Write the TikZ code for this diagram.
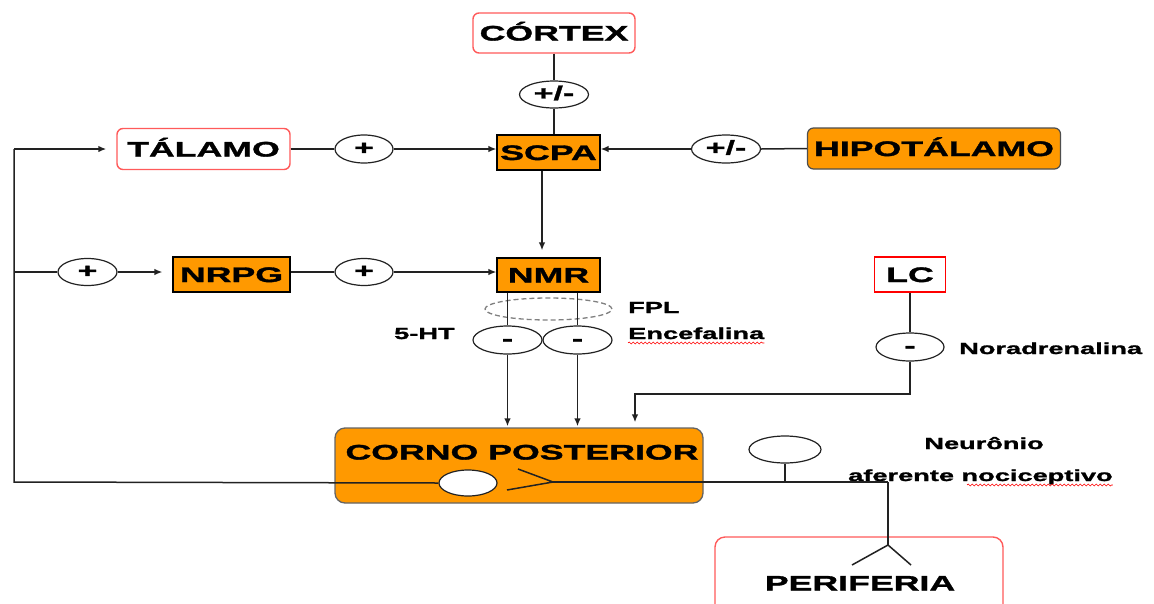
\documentclass[tikz,border=0pt]{standalone}
\usepackage{fontspec}
\setmainfont{Liberation Sans}
\newfontfamily\wfont[FakeStretch=1.7,FakeBold=1.6]{Liberation Sans}
\usetikzlibrary{arrows.meta,shapes.geometric,decorations.pathmorphing}
\definecolor{org}{HTML}{FF9900}
\definecolor{rbd}{HTML}{FF5A5A}
\definecolor{ln}{HTML}{222222}
\tikzset{
 big/.style={font=\wfont\bfseries\fontsize{21}{24}\selectfont, text height=15pt, text depth=0pt},
 small/.style={font=\wfont\bfseries\fontsize{16}{19}\selectfont},
 signf/.style={font=\wfont\bfseries\fontsize{20}{22}\selectfont, text height=11pt, text depth=0pt},
 redbox/.style={draw=rbd, line width=1.4pt, rounded corners=6pt, fill=white, inner sep=0pt, big},
 orbox/.style={draw=black, line width=1.2pt, fill=org, inner sep=0pt, big},
 sign/.style={ellipse, draw=ln, line width=1.2pt, fill=white, inner sep=0pt, signf},
 conn/.style={draw=ln, line width=1.5pt, line join=miter},
 arr/.style={conn, -{Latex[length=8pt,width=6.5pt]}},
 wavy/.style={draw=red, line width=0.6pt, decorate, decoration={snake, amplitude=1pt, segment length=4pt}},
}
\begin{document}
\begin{tikzpicture}[x=1pt,y=-1pt]
\clip (0,0) rectangle (1154,603);
\fill[white] (0,0) rectangle (1154,603);

% boxes
\node[redbox, minimum width=162pt, minimum height=40pt] (cortex) at (554,33) {CÓRTEX};
\node[redbox, minimum width=173pt, minimum height=41pt] (tal) at (203.5,149) {TÁLAMO};
\node[orbox, minimum width=103pt, minimum height=35pt] (scpa) at (548.5,152.5) {SCPA};
\node[orbox, draw=ln!80, rounded corners=6pt, minimum width=253pt, minimum height=41pt] (hip) at (934,148.5) {HIPOTÁLAMO};
\node[orbox, minimum width=117pt, minimum height=35pt] (nrpg) at (231.5,274.5) {NRPG};
\node[orbox, minimum width=103pt, minimum height=34pt] (nmr) at (548.5,275) {NMR};
\node[draw=red, line width=1.3pt, fill=white, inner sep=0pt, big, minimum width=71pt, minimum height=35pt] (lc) at (910,274.5) {LC};
\node[draw=ln!70, line width=1.3pt, fill=org, rounded corners=10pt, minimum width=368pt, minimum height=75pt] (corno) at (519,465.5) {};
\node[big, inner sep=0pt] (cornot) at (522,452) {CORNO POSTERIOR};
\node[draw=rbd, line width=1.4pt, rounded corners=10pt, minimum width=288pt, minimum height=86pt] (peri) at (859,580) {};
\node[big, inner sep=0pt] (perit) at (860,583) {PERIFERIA};

% sign ellipses
\node[sign, minimum width=69pt, minimum height=27pt] (pmtop) at (554,94.5) {+/-};
\node[sign, minimum width=58pt, minimum height=28pt] (p1) at (364,149) {+};
\node[sign, minimum width=69pt, minimum height=28pt] (pmr) at (726,149) {+/-};
\node[sign, minimum width=59pt, minimum height=27pt] (p3) at (87.5,272) {+};
\node[sign, minimum width=58pt, minimum height=27pt] (p4) at (364,272) {+};
\node[ellipse, draw=gray, dash pattern=on 5pt off 3pt, line width=1.3pt, minimum width=127pt, minimum height=22pt] (fpl) at (548.5,309) {};
\node[sign, minimum width=69pt, minimum height=28pt] (m1) at (507.5,340) {-};
\node[sign, minimum width=69pt, minimum height=28pt] (m2) at (577.5,340) {-};
\node[sign, minimum width=68pt, minimum height=28pt] (m3) at (910,347) {-};

% labels
\node[small, anchor=base west, inner sep=0pt] (fplt) at (628,313) {FPL};
\node[small, anchor=base west, inner sep=0pt] (enc) at (628,339) {Encefalina};
\node[small, anchor=base west, inner sep=0pt] (ht) at (394,339) {5-HT};
\node[small, anchor=base west, inner sep=0pt] (nor) at (959,354) {Noradrenalina};
\node[small, anchor=base, inner sep=0pt] (neu) at (984,449) {Neurônio};
\node[small, anchor=base west, inner sep=0pt] (afe) at (848,481) {aferente nociceptivo};
\draw[wavy] ([yshift=-4pt]enc.base west) -- ([yshift=-4pt]enc.base east);
\draw[wavy] (967,485) -- ([yshift=-4pt]afe.base east);

% coordinates
\coordinate (lt) at (14,149);
\coordinate (lm) at (14,272);
\coordinate (lb) at (14,482);
\coordinate (lcc) at (635,394);
\coordinate (gt) at (553,482);
\coordinate (fk1) at (888,482);
\coordinate (fk2) at (888,545);

% connectors top
\draw[conn] (cortex) -- (pmtop);
\draw[conn] (pmtop) -- (pmtop |- scpa.north);
\draw[conn] (tal.east) -- (p1.west);
\draw[arr] (p1.east) -- (p1.east -| scpa.west);
\draw[conn] (hip.west) -- (pmr.east);
\draw[arr] (pmr.west) -- (pmr.west -| scpa.east);
\draw[arr, shorten >=7pt] ([xshift=-6.5pt]scpa.south) -- ([xshift=-6.5pt]nmr.north);

% left loop
\draw[conn] (gt) -- (fk1);
\node[ellipse, draw=ln, line width=1.2pt, fill=white, minimum width=58pt, minimum height=26pt] (wel) at (468,483) {};
\draw[conn] (wel.west) -- (lb) -- (lt);
\draw[arr, shorten >=10pt] (lt) -- (tal.west);
\draw[conn] (lm) -- (p3.west);
\draw[arr, shorten >=10pt] (p3.east) -- (p3.east -| nrpg.west);
\draw[conn] (nrpg.east |- p4) -- (p4.west);
\draw[arr] (p4.east) -- (p4.east -| nmr.west);

% NMR outputs
\draw[conn] (m1.north |- nmr.south) -- (m1.north);
\draw[conn] (m2.north |- nmr.south) -- (m2.north);
\draw[arr, shorten >=1pt] (m1.south) -- (m1.south |- corno.north);
\draw[arr, shorten >=1pt] (m2.south) -- (m2.south |- corno.north);

% LC
\draw[conn] (lc) -- (m3);
\draw[arr, shorten >=5pt] (m3.south) -- (m3.south |- lcc) -- (lcc) -- (lcc |- corno.north);

% synapse and afferent
\draw[conn] (518,469) -- (gt) -- (507,490);
\node[ellipse, draw=ln, line width=1.2pt, fill=white, minimum width=72pt, minimum height=27pt] (soma) at (785,449.5) {};
\draw[conn] (soma.south) -- (soma.south |- gt);
\draw[conn] (fk1) -- (fk2);
\draw[conn] (852,565) -- (fk2) -- (911,565);
\end{tikzpicture}
\end{document}
